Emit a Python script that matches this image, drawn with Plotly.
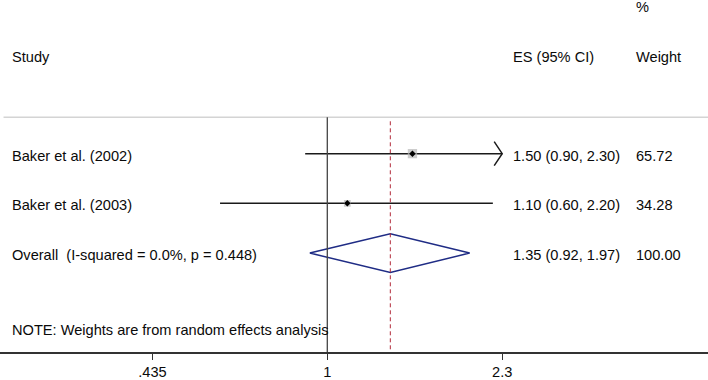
import math
import plotly.graph_objects as go

# ---- data ----
studies = ["Baker et al. (2002)", "Baker et al. (2003)"]
es = [1.50, 1.10]
ci_lo = [0.90, 0.60]
ci_hi = [2.30, 2.20]
weights = [65.72, 34.28]
es_text = ["1.50 (0.90, 2.30)", "1.10 (0.60, 2.20)"]
weight_text = ["65.72", "34.28"]

overall_label = "Overall  (I-squared = 0.0%, p = 0.448)"
overall_es = 1.35
overall_lo = 0.92
overall_hi = 1.97
overall_es_text = "1.35 (0.92, 1.97)"
overall_weight_text = "100.00"

tick_vals = [0.435, 1, 2.3]
tick_text = [".435", "1", "2.3"]
axis_min, axis_max = 0.435, 2.3
note = "NOTE: Weights are from random effects analysis"

# ---- layout constants ----
W, H = 708, 380
FONT = "Liberation Sans, Arial, Helvetica, sans-serif"
FS = 14.6
rows = [1, 2]
overall_row = 3
y_bottom, y_top = 4.99, -2.09
sep_y = 0.27

fig = go.Figure()

# CI lines
for r, lo, hi in zip(rows, ci_lo, ci_hi):
    fig.add_trace(go.Scatter(x=[max(lo, axis_min), min(hi, axis_max)], y=[r, r], mode="lines",
                             line=dict(color="#1a1a1a", width=1.5), hoverinfo="skip", showlegend=False))
    if hi >= axis_max:
        back = min(hi, axis_max) / math.exp(8 / 210)
        tip = min(hi, axis_max)
        fig.add_trace(go.Scatter(x=[back, tip, back], y=[r - 0.24, r, r + 0.24], mode="lines",
                                 line=dict(color="#1a1a1a", width=1.5), hoverinfo="skip", showlegend=False))

# weight squares
fig.add_trace(go.Scatter(x=es, y=rows, mode="markers",
                         marker=dict(symbol="square", color="#b8b8b8",
                                     size=[11.5 * math.sqrt(w / 100) for w in weights], line=dict(width=0)),
                         hoverinfo="skip", showlegend=False))
# point estimates
fig.add_trace(go.Scatter(x=es, y=rows, mode="markers",
                         marker=dict(symbol="diamond", color="#000000", size=5, line=dict(width=0)),
                         hoverinfo="skip", showlegend=False))

# overall diamond
fig.add_trace(go.Scatter(x=[overall_lo, overall_es, overall_hi, overall_es, overall_lo],
                         y=[overall_row, overall_row - 0.39, overall_row, overall_row + 0.39, overall_row],
                         mode="lines", line=dict(color="#1f2c85", width=1.5),
                         hoverinfo="skip", showlegend=False))

shapes = [
    dict(type="line", xref="paper", yref="y", x0=0.005, x1=1, y0=sep_y, y1=sep_y,
         line=dict(color="#d4d4d4", width=1.5)),
    dict(type="line", xref="x", yref="y", x0=1, x1=1, y0=sep_y, y1=y_bottom,
         line=dict(color="#444444", width=1.3)),
    dict(type="line", xref="x", yref="y", x0=overall_es, x1=overall_es, y0=sep_y + 0.08, y1=y_bottom,
         line=dict(color="#b22a3a", width=1, dash="4px,3px")),
]

ann = []
def txt(x, y, s, xref="paper"):
    ann.append(dict(x=x, y=y, xref=xref, yref="y", text=s, showarrow=False, xanchor="left",
                    yanchor="middle", font=dict(family=FONT, size=FS, color="#0a0a0a")))

xl, xes, xw = 10 / W, 511 / W, 634 / W
txt(xl, -0.946, "Study")
txt(xes, -0.946, "ES (95% CI)")
txt(xw, -0.946, "Weight")
txt(xw, -1.946, "%")
for r, s, e, w in zip(rows, studies, es_text, weight_text):
    txt(xl, r + 0.04, s)
    txt(xes, r + 0.04, e)
    txt(xw, r + 0.04, w)
txt(xl, overall_row + 0.04, overall_label)
txt(xes, overall_row + 0.04, overall_es_text)
txt(xw, overall_row + 0.04, overall_weight_text)
txt(xl, 4.548, note)

x_lo = -327.3 / 483.5
x_hi = (708 - 327.3) / 483.5

fig.update_layout(
    width=W, height=H,
    margin=dict(l=0, r=0, t=0, b=26, pad=0),
    paper_bgcolor="white", plot_bgcolor="white",
    shapes=shapes, annotations=ann,
    xaxis=dict(type="log", range=[x_lo, x_hi], tickvals=tick_vals, ticktext=tick_text,
               showline=True, linecolor="#333333", linewidth=1.5, ticks="outside", ticklen=6,
               tickcolor="#333333", tickwidth=1.2, showgrid=False, zeroline=False,
               tickfont=dict(family=FONT, size=FS, color="#0a0a0a")),
    yaxis=dict(range=[y_bottom, y_top], visible=False, showgrid=False, zeroline=False),
    showlegend=False,
)

fig.write_html("out.html", config={"displayModeBar": False},
               post_script="document.body.style.margin='0';document.body.style.overflow='hidden';")
